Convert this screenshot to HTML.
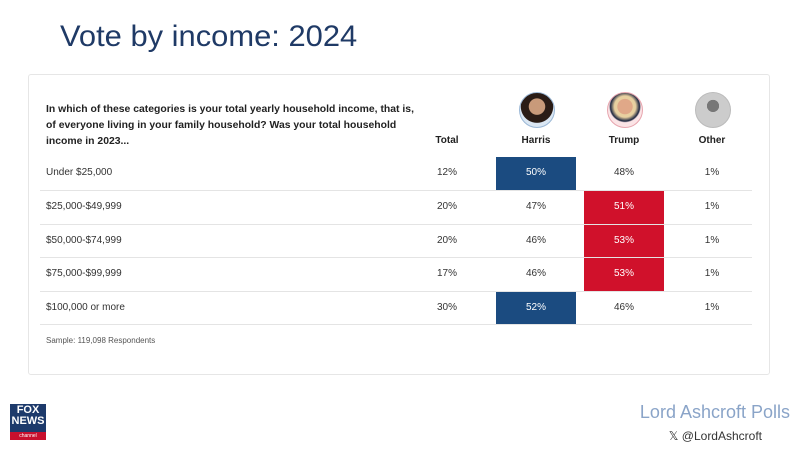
<!DOCTYPE html>
<html><head><meta charset="utf-8"><style>
body{margin:0;width:800px;height:450px;background:#fff;position:relative;font-family:"Liberation Sans",sans-serif;overflow:hidden}
.a{position:absolute}
.title{left:60px;top:20px;font-size:30px;color:#1f3a66;transform:scaleX(1.03);transform-origin:left}
.card{left:28px;top:74px;width:742px;height:301px;border:1px solid #e6e6e6;border-radius:3px;box-sizing:border-box}
.q{left:46px;top:101px;font-size:10.5px;font-weight:bold;line-height:16px;color:#222;transform:scaleX(0.99);transform-origin:left}
.h{font-size:10px;font-weight:bold;color:#222;width:80px;text-align:center;top:135px}
.c{font-size:10px;color:#333;width:80px;text-align:center}
.lab{font-size:10px;color:#333;left:46px}
.line{left:40px;width:712px;height:1px;background:#e4e4e4}
.box{width:80px;height:33px}
.av{width:34px;height:34px;border-radius:50%;top:92px}
</style></head><body>
<div class="a title">Vote by income: 2024</div>
<div class="a card"></div>
<div class="a q">In which of these categories is your total yearly household income, that is,<br>of everyone living in your family household? Was your total household<br>income in 2023...</div>
<div class="a av" style="left:519px;background:radial-gradient(circle at 50% 40%,#c89a7a 0 30%,#2a1c16 32% 60%,#dbe7f3 62%);border:1px solid #9bb8d6"></div>
<div class="a av" style="left:607px;background:radial-gradient(circle at 50% 40%,#e0a888 0 28%,#e8d0a0 30% 40%,#1c2540 55%,#fbe4e6 60%);border:1px solid #e7a5ae"></div>
<div class="a av" style="left:695px;background:radial-gradient(circle at 50% 38%,#777 0 22%,#ccc 23%);border:1px solid #bbb"></div>
<div class="a h" style="left:407px">Total</div>
<div class="a h" style="left:496px">Harris</div>
<div class="a h" style="left:584px">Trump</div>
<div class="a h" style="left:672px">Other</div>

<div class="a box" style="left:496px;top:157px;background:#1b4b80"></div>
<div class="a box" style="left:584px;top:191px;background:#d0112b"></div>
<div class="a box" style="left:584px;top:225px;background:#d0112b"></div>
<div class="a box" style="left:584px;top:258px;background:#d0112b"></div>
<div class="a box" style="left:496px;top:292px;background:#1b4b80"></div>

<div class="a line" style="top:190px"></div>
<div class="a line" style="top:224px"></div>
<div class="a line" style="top:257px"></div>
<div class="a line" style="top:291px"></div>
<div class="a line" style="top:324px"></div>

<div class="a lab" style="top:167px">Under $25,000</div>
<div class="a c" style="left:407px;top:167px">12%</div>
<div class="a c" style="left:496px;top:167px;color:#fff">50%</div>
<div class="a c" style="left:584px;top:167px">48%</div>
<div class="a c" style="left:672px;top:167px">1%</div>

<div class="a lab" style="top:201px">$25,000-$49,999</div>
<div class="a c" style="left:407px;top:201px">20%</div>
<div class="a c" style="left:496px;top:201px">47%</div>
<div class="a c" style="left:584px;top:201px;color:#fff">51%</div>
<div class="a c" style="left:672px;top:201px">1%</div>

<div class="a lab" style="top:235px">$50,000-$74,999</div>
<div class="a c" style="left:407px;top:235px">20%</div>
<div class="a c" style="left:496px;top:235px">46%</div>
<div class="a c" style="left:584px;top:235px;color:#fff">53%</div>
<div class="a c" style="left:672px;top:235px">1%</div>

<div class="a lab" style="top:268px">$75,000-$99,999</div>
<div class="a c" style="left:407px;top:268px">17%</div>
<div class="a c" style="left:496px;top:268px">46%</div>
<div class="a c" style="left:584px;top:268px;color:#fff">53%</div>
<div class="a c" style="left:672px;top:268px">1%</div>

<div class="a lab" style="top:302px">$100,000 or more</div>
<div class="a c" style="left:407px;top:302px">30%</div>
<div class="a c" style="left:496px;top:302px;color:#fff">52%</div>
<div class="a c" style="left:584px;top:302px">46%</div>
<div class="a c" style="left:672px;top:302px">1%</div>

<div class="a" style="left:46px;top:336px;font-size:8px;color:#555">Sample: 119,098 Respondents</div>

<div class="a" style="left:10px;top:404px;width:36px;height:36px;background:#1d3a6b"></div>
<div class="a" style="left:10px;top:405px;width:36px;font-size:11px;font-weight:bold;color:#fff;line-height:11px;text-align:center">FOX<br>NEWS</div>
<div class="a" style="left:10px;top:432px;width:36px;height:8px;background:#c8102e;font-size:5px;color:#fff;text-align:center;line-height:8px">channel</div>

<div class="a" style="right:10px;top:402px;font-size:18px;color:#8aa4c8">Lord Ashcroft Polls</div>
<div class="a" style="right:38px;top:429px;font-size:12px;color:#333">𝕏 @LordAshcroft</div>
</body></html>
